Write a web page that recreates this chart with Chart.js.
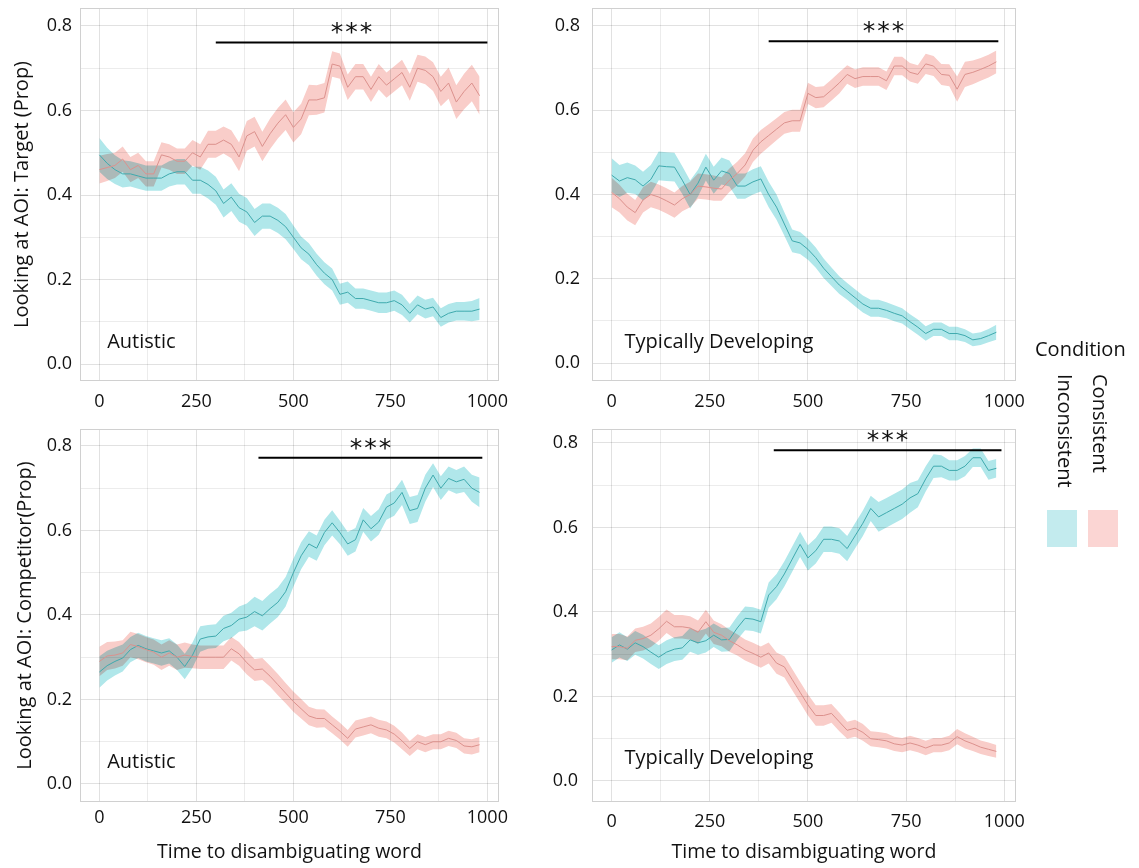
<!DOCTYPE html>
<html>
<head>
<meta charset="utf-8">
<script src="https://cdn.jsdelivr.net/npm/chart.js@4.4.0/dist/chart.umd.min.js"></script>
<style>
html,body{margin:0;padding:0;background:#fff;}
body{width:1139px;height:868px;position:relative;overflow:hidden;font-family:"Open Sans",sans-serif;}
canvas{position:absolute;}
.leg{position:absolute;color:#111;font-size:20px;line-height:20px;white-space:nowrap;z-index:5;}
.vt{writing-mode:vertical-rl;}
.sw{position:absolute;width:30px;height:37px;z-index:5;}
</style>
</head>
<body>
<canvas id="c1" width="530" height="420" style="left:0;top:0"></canvas>
<canvas id="c2" width="510" height="420" style="left:530px;top:0"></canvas>
<canvas id="c3" width="530" height="448" style="left:0;top:420px"></canvas>
<canvas id="c4" width="510" height="448" style="left:530px;top:420px"></canvas>

<div class="leg" style="left:1035px;top:339px;">Condition</div>
<div class="leg vt" style="left:1055px;top:374px;">Inconsistent</div>
<div class="leg vt" style="left:1090px;top:374px;">Consistent</div>
<div class="sw" style="left:1047px;top:510px;background:#c3ebee;"></div>
<div class="sw" style="left:1088px;top:510px;background:#fbd5d3;"></div>

<script>
// ---------- data ----------
const times = [0,20,40,60,80,100,120,140,160,180,200,220,240,260,280,300,320,340,360,380,
  400,420,440,460,480,500,520,540,560,580,600,620,640,660,680,700,720,740,760,780,
  800,820,840,860,880,900,920,940,960,980];

const xGridVals = [0,125,250,375,500,625,750,875,1000];
const xTickLabels = ['0','','250','','500','','750','','1000'];
const yGridVals = [0,0.1,0.2,0.3,0.4,0.5,0.6,0.7,0.8];
const yTickLabels = ['0.0','','0.2','','0.4','','0.6','','0.8'];

const conditions = ['Consistent','Inconsistent'];
const groups = ['Autistic','Typically Developing'];

// Target, Autistic
const targetAutCon = [0.46,0.465,0.47,0.485,0.46,0.47,0.45,0.45,0.495,0.49,
  0.48,0.48,0.50,0.49,0.52,0.52,0.53,0.52,0.49,0.54,
  0.55,0.515,0.545,0.57,0.59,0.56,0.58,0.625,0.625,0.63,
  0.71,0.705,0.655,0.68,0.68,0.65,0.68,0.66,0.675,0.69,
  0.655,0.70,0.695,0.68,0.645,0.665,0.62,0.645,0.665,0.635];
const targetAutConSe = [0.033,0.032,0.03,0.03,0.03,0.03,0.03,0.03,0.03,0.03,
  0.03,0.03,0.03,0.03,0.032,0.032,0.032,0.033,0.034,0.035,
  0.035,0.035,0.036,0.036,0.036,0.036,0.036,0.036,0.035,0.035,
  0.03,0.03,0.03,0.03,0.03,0.03,0.03,0.03,0.03,0.03,
  0.032,0.032,0.033,0.034,0.035,0.037,0.04,0.042,0.043,0.045];
const targetAutInc = [0.495,0.475,0.46,0.45,0.45,0.445,0.44,0.44,0.44,0.45,
  0.455,0.455,0.435,0.435,0.425,0.41,0.38,0.395,0.37,0.36,
  0.335,0.35,0.35,0.34,0.325,0.30,0.275,0.26,0.235,0.215,
  0.20,0.165,0.17,0.155,0.155,0.15,0.145,0.145,0.15,0.14,
  0.12,0.14,0.13,0.135,0.11,0.12,0.125,0.125,0.125,0.13];
const targetAutIncSe = [0.04,0.037,0.034,0.032,0.03,0.03,0.03,0.03,0.03,0.03,
  0.03,0.03,0.032,0.032,0.033,0.033,0.033,0.033,0.033,0.033,
  0.032,0.03,0.03,0.03,0.03,0.028,0.027,0.026,0.026,0.026,
  0.026,0.025,0.025,0.024,0.024,0.024,0.024,0.024,0.024,0.024,
  0.022,0.022,0.022,0.022,0.022,0.022,0.022,0.022,0.024,0.026];

// Target, Typically Developing
const targetTdCon = [0.405,0.39,0.37,0.357,0.387,0.40,0.394,0.385,0.375,0.39,
  0.40,0.42,0.418,0.415,0.413,0.434,0.45,0.47,0.505,0.525,
  0.54,0.555,0.57,0.575,0.575,0.64,0.63,0.632,0.648,0.665,
  0.685,0.675,0.68,0.68,0.68,0.67,0.705,0.705,0.69,0.685,
  0.71,0.705,0.685,0.683,0.65,0.685,0.69,0.697,0.705,0.715];
const targetTdConSe = [0.035,0.033,0.032,0.03,0.03,0.03,0.03,0.03,0.03,0.03,
  0.03,0.03,0.03,0.03,0.028,0.028,0.028,0.028,0.028,0.028,
  0.027,0.026,0.026,0.026,0.026,0.025,0.025,0.025,0.025,0.025,
  0.022,0.022,0.022,0.022,0.022,0.022,0.022,0.022,0.022,0.022,
  0.024,0.024,0.025,0.026,0.03,0.03,0.028,0.027,0.027,0.027];
const targetTdInc = [0.446,0.432,0.44,0.435,0.42,0.436,0.468,0.466,0.465,0.434,
  0.40,0.427,0.465,0.434,0.456,0.45,0.42,0.42,0.43,0.437,
  0.40,0.37,0.33,0.29,0.285,0.27,0.25,0.225,0.205,0.185,
  0.17,0.155,0.14,0.13,0.13,0.125,0.118,0.112,0.098,0.085,
  0.07,0.08,0.08,0.07,0.07,0.065,0.055,0.058,0.065,0.073];
const targetTdIncSe = [0.04,0.038,0.036,0.034,0.034,0.034,0.034,0.034,0.034,0.033,
  0.033,0.032,0.032,0.032,0.032,0.031,0.03,0.03,0.03,0.03,
  0.03,0.03,0.028,0.027,0.026,0.025,0.024,0.023,0.022,0.021,
  0.02,0.02,0.02,0.02,0.02,0.019,0.019,0.018,0.018,0.018,
  0.017,0.016,0.016,0.016,0.016,0.015,0.015,0.015,0.016,0.018];

// Competitor, Autistic
const compAutCon = [0.29,0.303,0.305,0.31,0.33,0.325,0.318,0.312,0.30,0.31,
  0.30,0.305,0.302,0.30,0.30,0.30,0.30,0.32,0.308,0.287,
  0.27,0.272,0.255,0.235,0.215,0.195,0.178,0.161,0.155,0.155,
  0.14,0.125,0.108,0.13,0.135,0.14,0.132,0.128,0.118,0.102,
  0.084,0.10,0.093,0.10,0.10,0.108,0.103,0.09,0.088,0.093];
const compAutConSe = [0.035,0.033,0.032,0.03,0.03,0.03,0.03,0.03,0.03,0.03,
  0.03,0.03,0.028,0.028,0.028,0.028,0.028,0.028,0.028,0.028,
  0.026,0.026,0.025,0.025,0.024,0.024,0.023,0.022,0.022,0.021,
  0.02,0.02,0.02,0.02,0.02,0.02,0.02,0.02,0.02,0.02,
  0.018,0.018,0.018,0.018,0.018,0.018,0.018,0.018,0.018,0.018];
const compAutInc = [0.265,0.28,0.29,0.298,0.318,0.328,0.32,0.315,0.31,0.315,
  0.30,0.278,0.305,0.343,0.348,0.35,0.368,0.375,0.39,0.395,
  0.408,0.398,0.415,0.43,0.455,0.50,0.54,0.568,0.558,0.595,
  0.618,0.595,0.568,0.578,0.625,0.604,0.62,0.655,0.665,0.69,
  0.647,0.652,0.70,0.731,0.70,0.723,0.715,0.721,0.70,0.69];
const compAutIncSe = [0.037,0.035,0.033,0.032,0.03,0.03,0.03,0.03,0.03,0.03,
  0.03,0.03,0.03,0.03,0.028,0.028,0.03,0.03,0.03,0.032,
  0.035,0.035,0.035,0.035,0.035,0.033,0.032,0.03,0.03,0.03,
  0.03,0.028,0.028,0.028,0.028,0.03,0.03,0.03,0.03,0.03,
  0.032,0.032,0.032,0.028,0.028,0.028,0.028,0.03,0.032,0.035];

// Competitor, Typically Developing
const compTdCon = [0.318,0.318,0.314,0.333,0.337,0.345,0.36,0.378,0.365,0.365,
  0.362,0.352,0.377,0.352,0.345,0.332,0.322,0.31,0.302,0.293,
  0.303,0.279,0.27,0.24,0.21,0.18,0.155,0.155,0.16,0.14,
  0.12,0.125,0.115,0.10,0.098,0.095,0.088,0.085,0.09,0.085,
  0.078,0.085,0.085,0.09,0.105,0.095,0.088,0.08,0.075,0.07];
const compTdConSe = [0.03,0.03,0.028,0.028,0.028,0.028,0.028,0.028,0.028,0.028,
  0.028,0.028,0.028,0.028,0.026,0.026,0.025,0.025,0.025,0.025,
  0.025,0.025,0.025,0.025,0.025,0.025,0.024,0.024,0.022,0.022,
  0.02,0.02,0.02,0.018,0.018,0.018,0.017,0.017,0.017,0.017,
  0.017,0.017,0.017,0.017,0.018,0.018,0.017,0.016,0.016,0.015];
const compTdInc = [0.31,0.322,0.312,0.327,0.318,0.305,0.293,0.305,0.312,0.315,
  0.334,0.327,0.332,0.345,0.334,0.335,0.362,0.385,0.383,0.377,
  0.44,0.46,0.49,0.525,0.56,0.528,0.545,0.572,0.572,0.568,
  0.55,0.58,0.61,0.645,0.625,0.635,0.645,0.655,0.67,0.68,
  0.715,0.745,0.745,0.735,0.735,0.745,0.765,0.765,0.735,0.74];
const compTdIncSe = [0.03,0.03,0.028,0.028,0.028,0.028,0.028,0.028,0.028,0.028,
  0.028,0.028,0.028,0.028,0.028,0.028,0.028,0.028,0.028,0.028,
  0.03,0.03,0.03,0.03,0.03,0.03,0.03,0.03,0.03,0.03,
  0.03,0.03,0.03,0.03,0.035,0.035,0.035,0.035,0.035,0.032,
  0.03,0.028,0.026,0.024,0.024,0.024,0.022,0.022,0.022,0.022];

// significance bars: [start, end, level]
const sigTargetAut = [300, 1000, 0.761];
const sigTargetTd = [400, 985, 0.764];
const sigCompAut = [410, 987, 0.772];
const sigCompTd = [413, 993, 0.783];
const sigText = '***';

// ---------- style ----------
const PINK_RIB = '#f9cdc9', CYAN_RIB = '#b0e7ea';
const PINK_LINE = '#dc918d', CYAN_LINE = '#3faaae';
const GRID_MAJOR = '#e1e1e1', GRID_MINOR = '#ececec', BORDER = '#d0d0d0';
const FONT = '"Open Sans", sans-serif';
Chart.defaults.font.family = FONT;

const blendPlugin = {
  id: 'blend',
  beforeDraw(c) { c.ctx.globalCompositeOperation = 'multiply'; },
  beforeDatasetDraw(c) { c.ctx.globalCompositeOperation = 'source-over'; },
  afterDatasetsDraw(c) { c.ctx.globalCompositeOperation = 'source-over'; },
  afterDraw(c) { c.ctx.globalCompositeOperation = 'source-over'; }
};

function annotPlugin(P) {
  return {
    id: 'annot',
    afterDraw(c) {
      const {ctx, chartArea: a, scales: {x, y}} = c;
      ctx.save();
      ctx.globalCompositeOperation = 'source-over';
      ctx.strokeStyle = BORDER; ctx.lineWidth = 1;
      ctx.strokeRect(a.left + 0.5, a.top + 0.5, a.right - a.left - 1, a.bottom - a.top - 1);
      ctx.fillStyle = '#111';
      ctx.font = '25px "DejaVu Sans"';
      if ('letterSpacing' in ctx) ctx.letterSpacing = '2px';
      ctx.textAlign = 'center'; ctx.textBaseline = 'alphabetic';
      ctx.fillText(sigText, x.getPixelForValue((P.sig[0] + P.sig[1]) / 2) + 1, y.getPixelForValue(P.sig[2]) - 2);
      if ('letterSpacing' in ctx) ctx.letterSpacing = '0px';
      ctx.font = '20px ' + FONT;
      ctx.textAlign = 'left'; ctx.textBaseline = 'middle';
      ctx.fillText(P.group, x.getPixelForValue(P.labelX), y.getPixelForValue(P.labelY));
      ctx.restore();
    }
  };
}

function pts(vals) { return times.map((t, i) => ({x: t, y: vals[i]})); }
function band(vals, se, s) { return times.map((t, i) => ({x: t, y: vals[i] + s * se[i]})); }

function build(id, P) {
  const datasets = [
    {label: conditions[0], data: pts(P.con), borderColor: PINK_LINE, borderWidth: 1, pointRadius: 0, fill: false},
    {label: conditions[1], data: pts(P.inc), borderColor: CYAN_LINE, borderWidth: 1, pointRadius: 0, fill: false},
    {label: 'sig', data: [{x: P.sig[0], y: P.sig[2]}, {x: P.sig[1], y: P.sig[2]}], borderColor: '#000', borderWidth: 2, pointRadius: 0, fill: false},
    {label: 'conHi', data: band(P.con, P.conSe, 1), borderColor: 'rgba(0,0,0,0)', borderWidth: 0, pointRadius: 0, fill: '+1', backgroundColor: PINK_RIB},
    {label: 'conLo', data: band(P.con, P.conSe, -1), borderColor: 'rgba(0,0,0,0)', borderWidth: 0, pointRadius: 0, fill: false},
    {label: 'incHi', data: band(P.inc, P.incSe, 1), borderColor: 'rgba(0,0,0,0)', borderWidth: 0, pointRadius: 0, fill: '+1', backgroundColor: CYAN_RIB},
    {label: 'incLo', data: band(P.inc, P.incSe, -1), borderColor: 'rgba(0,0,0,0)', borderWidth: 0, pointRadius: 0, fill: false}
  ];
  new Chart(document.getElementById(id), {
    type: 'line',
    data: {datasets},
    options: {
      responsive: false, animation: false, events: [],
      layout: {padding: {left: 0, right: P.padR, top: P.padT, bottom: 0}},
      plugins: {legend: {display: false}, tooltip: {enabled: false}, filler: {drawTime: 'beforeDatasetsDraw'}},
      elements: {line: {tension: 0}},
      scales: {
        x: {
          type: 'linear', min: -50, max: 1030,
          afterBuildTicks: s => { s.ticks = xGridVals.map(v => ({value: v})); },
          afterFit: s => { s.height = P.xH; s.paddingLeft = 0; s.paddingRight = 0; },
          grid: {color: c => (c.index % 2 === 0 ? GRID_MAJOR : GRID_MINOR), lineWidth: 1, drawTicks: false},
          border: {display: false},
          ticks: {autoSkip: false, maxRotation: 0, padding: P.xPad, color: '#111', font: {size: 18},
                  callback: (v, i) => xTickLabels[i]},
          title: {display: !!P.xTitle, text: P.xTitle || '', color: '#111', font: {size: 19.5}, padding: {top: 0, bottom: 4}}
        },
        y: {
          type: 'linear', min: P.yMin, max: P.yMax,
          afterBuildTicks: s => { s.ticks = yGridVals.map(v => ({value: v})); },
          afterFit: s => { s.width = P.yW; s.paddingTop = 0; s.paddingBottom = 0; },
          grid: {color: c => (c.index % 2 === 0 ? GRID_MAJOR : GRID_MINOR), lineWidth: 1, drawTicks: false},
          border: {display: false},
          ticks: {autoSkip: false, padding: P.yPad, color: '#111', font: {size: 18},
                  callback: (v, i) => yTickLabels[i]},
          title: {display: !!P.yTitle, text: P.yTitle || '', color: '#111', font: {size: 20}, padding: {top: P.yTitlePad, bottom: 0}}
        }
      }
    },
    plugins: [blendPlugin, annotPlugin(P)]
  });
}

build('c1', {con: targetAutCon, conSe: targetAutConSe, inc: targetAutInc, incSe: targetAutIncSe,
  sig: sigTargetAut, group: groups[0], labelX: 20, labelY: 0.052,
  yMin: -0.0402, yMax: 0.8426, yW: 80, padR: 31, padT: 8, xH: 39, xPad: 10, yPad: 8,
  yTitle: 'Looking at AOI: Target (Prop)', yTitlePad: 10});
build('c2', {con: targetTdCon, conSe: targetTdConSe, inc: targetTdInc, incSe: targetTdIncSe,
  sig: sigTargetTd, group: groups[1], labelX: 33, labelY: 0.05,
  yMin: -0.0427, yMax: 0.8427, yW: 62, padR: 24, padT: 8, xH: 39, xPad: 10, yPad: 12});
build('c3', {con: compAutCon, conSe: compAutConSe, inc: compAutInc, incSe: compAutIncSe,
  sig: sigCompAut, group: groups[0], labelX: 20, labelY: 0.052,
  yMin: -0.0426, yMax: 0.840, yW: 80, padR: 31, padT: 9, xH: 66, xPad: 5, yPad: 8,
  yTitle: 'Looking at AOI: Competitor(Prop)', yTitlePad: 13, xTitle: 'Time to disambiguating word'});
build('c4', {con: compTdCon, conSe: compTdConSe, inc: compTdInc, incSe: compTdIncSe,
  sig: sigCompTd, group: groups[1], labelX: 33, labelY: 0.054,
  yMin: -0.0497, yMax: 0.833, yW: 62, padR: 24, padT: 9, xH: 66, xPad: 9, yPad: 14,
  xTitle: 'Time to disambiguating word'});
</script>
</body>
</html>
